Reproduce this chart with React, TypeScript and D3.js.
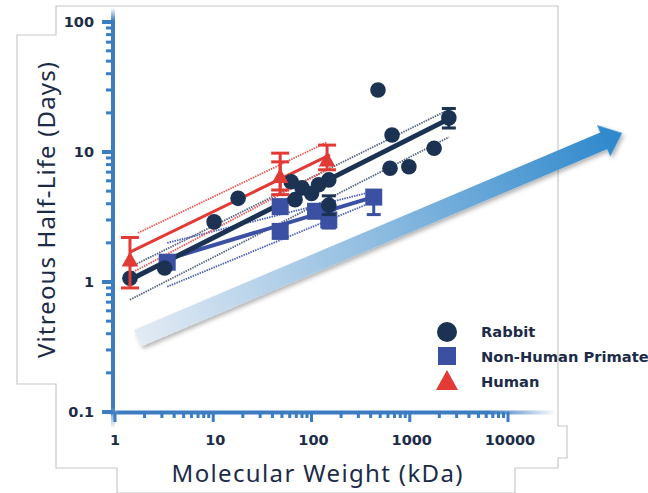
import React from "react";
import * as d3 from "d3";

const W = 648, H = 493;

// Data: [molecular weight (kDa), vitreous half-life (days)]
const rabbitPoints: [number, number][] = [
  [1.42, 1.07], [3.2, 1.28], [10.2, 2.9], [17.9, 4.4], [62, 5.9], [68, 4.3], [80, 5.3],
  [100, 4.8], [118, 5.6], [150, 6.1], [150, 3.9], [475, 30], [630, 7.5], [660, 13.5],
  [980, 7.7], [1770, 10.7], [2500, 18.3],
];
const nhpPoints: [number, number][] = [
  [3.4, 1.42], [48, 3.8], [48, 2.45], [110, 3.5], [150, 3.0], [430, 4.5],
];
const humanPoints: [number, number][] = [
  [1.42, 1.48], [48, 6.5], [144, 8.7],
];
// error bars: [mw, low, high]
const rabbitErrors: [number, number, number][] = [[2500, 15.3, 21.6], [150, 3.3, 4.6]];
const nhpErrors: [number, number, number][] = [[430, 3.3, 5.0], [150, 2.6, 3.6]];
const humanErrors: [number, number, number][] = [
  [1.42, 0.9, 2.2], [48, 4.7, 9.8], [48, 5.1, 8.4], [144, 7.3, 11.3],
];
// regression fits and confidence limits (endpoints)
const rabbitFit: [number, number][] = [[1.42, 1.04], [2630, 18.3]];
const rabbitUpper: [number, number][] = [[1.42, 1.3], [2690, 21.8]];
const rabbitLower: [number, number][] = [[1.42, 0.73], [2500, 13.0]];
const nhpFit: [number, number][] = [[3.23, 1.48], [424, 4.5]];
const nhpUpper: [number, number][] = [[3.4, 2.0], [350, 4.8]];
const nhpLower: [number, number][] = [[3.4, 0.92], [350, 3.9]];
const humanFit: [number, number][] = [[1.42, 1.7], [154, 9.5]];
const humanUpper: [number, number][] = [[1.71, 2.38], [144, 11.9]];
const humanLower: [number, number][] = [[1.52, 1.19], [154, 7.5]];
const arrowStart: [number, number] = [1.7, 0.37];
const arrowEnd: [number, number] = [145000, 14];

const xTicks = [1, 10, 100, 1000, 10000];
const yTicks = [0.1, 1, 10, 100];
const legendItems = ["Rabbit", "Non-Human Primate", "Human"];

const NAVY = "#1b3252";
const NHP = "#3b4fa3";
const RED = "#e23b36";
const AXIS = "#3c7cc0";
const TEXT = "#1c2c48";

export default function App() {
  const x = d3.scaleLog().domain([1, 10000]).range([115, 508]);
  const y = d3.scaleLog().domain([0.1, 100]).range([412, 22]);
  const line = d3.line<[number, number]>().x(d => x(d[0])).y(d => y(d[1]));

  const minorX: number[] = [];
  for (let dec = 1; dec < 10000; dec *= 10) for (let k = 2; k <= 9; k++) minorX.push(dec * k);
  const minorY: number[] = [];
  for (let dec = 0.1; dec < 99; dec *= 10) for (let k = 2; k <= 9; k++) minorY.push(dec * k);

  const ax0 = x(arrowStart[0]), ay0 = y(arrowStart[1]);
  const ax1 = x(arrowEnd[0]), ay1 = y(arrowEnd[1]);
  const ang = Math.atan2(ay1 - ay0, ax1 - ax0) * 180 / Math.PI;
  const L = Math.hypot(ax1 - ax0, ay1 - ay0);
  const headL = 20, headW = 17, bodyW = 9;
  const arrowPts = [
    [0, -bodyW], [L - headL, -bodyW], [L - headL, -headW], [L, 0],
    [L - headL, headW], [L - headL, bodyW], [0, bodyW],
  ].map(p => p.join(",")).join(" ");

  const border = "M17,384 L17,35 L56,35 L56,6 L558,6 L558,426 L567,426 L567,458 L558,458 L558,468 L515,468 L515,493 L117,493 L117,468 L56,468 L56,384 Z";

  const tri = (cx: number, cy: number, s: number) =>
    `M${cx},${cy - s * 0.55} L${cx + s * 0.55},${cy + s * 0.45} L${cx - s * 0.55},${cy + s * 0.45} Z`;

  const errBar = (e: [number, number, number], color: string, cap: number, w: number, key: string) => (
    <g key={key} stroke={color} strokeWidth={w}>
      <line x1={x(e[0])} x2={x(e[0])} y1={y(e[1])} y2={y(e[2])} />
      <line x1={x(e[0]) - cap / 2} x2={x(e[0]) + cap / 2} y1={y(e[1])} y2={y(e[1])} />
      <line x1={x(e[0]) - cap / 2} x2={x(e[0]) + cap / 2} y1={y(e[2])} y2={y(e[2])} />
    </g>
  );

  return (
    <svg width={W} height={H} style={{ position: "absolute", left: 0, top: 0 }} fontFamily="DejaVu Sans">
      <defs>
        <linearGradient id="arrowGrad" x1="0" y1="0" x2="1" y2="0">
          <stop offset="0" stopColor="#e3ebf4" />
          <stop offset="0.5" stopColor="#8dbbe0" />
          <stop offset="1" stopColor="#2c87cc" />
        </linearGradient>
        <linearGradient id="yAxisGrad" x1="0" y1="0" x2="0" y2="1">
          <stop offset="0" stopColor={AXIS} stopOpacity="0" />
          <stop offset="0.03" stopColor={AXIS} stopOpacity="1" />
          <stop offset="0.95" stopColor={AXIS} stopOpacity="1" />
          <stop offset="1" stopColor={AXIS} stopOpacity="0" />
        </linearGradient>
        <linearGradient id="xAxisGrad" x1="0" y1="0" x2="1" y2="0">
          <stop offset="0" stopColor={AXIS} stopOpacity="0" />
          <stop offset="0.03" stopColor={AXIS} stopOpacity="1" />
          <stop offset="0.85" stopColor={AXIS} stopOpacity="1" />
          <stop offset="1" stopColor={AXIS} stopOpacity="0" />
        </linearGradient>
        <filter id="shadow" x="-10%" y="-50%" width="120%" height="200%">
          <feDropShadow dx="1" dy="3" stdDeviation="2" floodColor="#000" floodOpacity="0.3" />
        </filter>
      </defs>
      <rect width={W} height={H} fill="#fff" />
      <path d={border} fill="#fff" stroke="#c8c8c8" strokeWidth={1.2} />

      {/* arrow */}
      <g transform={`translate(${ax0},${ay0}) rotate(${ang})`} filter="url(#shadow)">
        <polygon points={arrowPts} fill="url(#arrowGrad)" />
      </g>

      {/* axes */}
      <rect x={111} y={8} width={4} height={420} fill="url(#yAxisGrad)" />
      <rect x={105} y={410.5} width={452} height={4} fill="url(#xAxisGrad)" />
      {minorY.map((v, i) => (
        <rect key={"my" + i} x={106} y={y(v) - 1.5} width={7} height={3} fill={AXIS} />
      ))}
      {yTicks.map((v, i) => (
        <rect key={"My" + i} x={102} y={y(v) - 2} width={11} height={4} fill={AXIS} />
      ))}
      {minorX.map((v, i) => (
        <rect key={"mx" + i} x={x(v) - 1.5} y={412} width={3} height={6} fill={AXIS} />
      ))}
      {xTicks.map((v, i) => (
        <rect key={"Mx" + i} x={x(v) - 1.5} y={412} width={3} height={10} fill={AXIS} />
      ))}
      {yTicks.map((v, i) => (
        <text key={"ty" + i} x={94} y={y(v) + 5} textAnchor="end" fontSize={14.5} fontWeight="bold" fill={TEXT}>
          {d3.format("~g")(v)}
        </text>
      ))}
      {xTicks.map((v, i) => (
        <text key={"tx" + i} x={x(v) + (i === 0 ? 0 : 2)} y={445} textAnchor="middle" fontSize={14.5} fontWeight="bold" fill={TEXT}>
          {String(v)}
        </text>
      ))}
      <text transform="translate(55,210) rotate(-90)" textAnchor="middle" fontSize={24} fontFamily="Noto Sans" fill={TEXT}
        textLength={296} lengthAdjust="spacing">
        Vitreous Half-Life (Days)
      </text>
      <text x={317} y={482} textAnchor="middle" fontSize={24} fontFamily="Noto Sans" fill={TEXT}
        textLength={291} lengthAdjust="spacing">
        Molecular Weight (kDa)
      </text>

      {/* confidence limits */}
      <g fill="none" strokeWidth={1.8} strokeDasharray="1.5 1">
        <path d={line(rabbitUpper)!} stroke="#55657e" />
        <path d={line(rabbitLower)!} stroke="#55657e" />
        <path d={line(nhpUpper)!} stroke="#4b5fb8" />
        <path d={line(nhpLower)!} stroke="#4b5fb8" />
        <path d={line(humanUpper)!} stroke="#ea5a55" />
        <path d={line(humanLower)!} stroke="#ea5a55" />
      </g>
      {/* fits */}
      <path d={line(nhpFit)!} stroke={NHP} strokeWidth={4} fill="none" />
      <path d={line(humanFit)!} stroke={RED} strokeWidth={3} fill="none" />
      <path d={line(rabbitFit)!} stroke={NAVY} strokeWidth={5} fill="none" strokeLinecap="round" />

      {/* NHP */}
      {nhpErrors.map((e, i) => errBar(e, NHP, 14, 3, "ne" + i))}
      {nhpPoints.map((p, i) => (
        <rect key={"n" + i} x={x(p[0]) - 8.5} y={y(p[1]) - 8.5} width={17} height={17} fill={NHP} />
      ))}
      {/* Rabbit */}
      {rabbitErrors.map((e, i) => errBar(e, NAVY, 14, 3, "re" + i))}
      {rabbitPoints.map((p, i) => (
        <circle key={"r" + i} cx={x(p[0])} cy={y(p[1])} r={7.8} fill={NAVY} />
      ))}
      {/* Human */}
      {humanErrors.map((e, i) => errBar(e, RED, 18, 3, "he" + i))}
      {humanPoints.map((p, i) => (
        <path key={"h" + i} d={tri(x(p[0]), y(p[1]), 15)} fill={RED} />
      ))}

      {/* legend */}
      <circle cx={447} cy={332} r={10} fill={NAVY} />
      <rect x={438} y={347} width={18} height={18} fill={NHP} />
      <path d={tri(447, 381, 20)} fill={RED} />
      {legendItems.map((t, i) => (
        <text key={"l" + i} x={481} y={337 + i * 25} fontSize={14.7} fontWeight="bold" fill={TEXT}>
          {t}
        </text>
      ))}
    </svg>
  );
}
